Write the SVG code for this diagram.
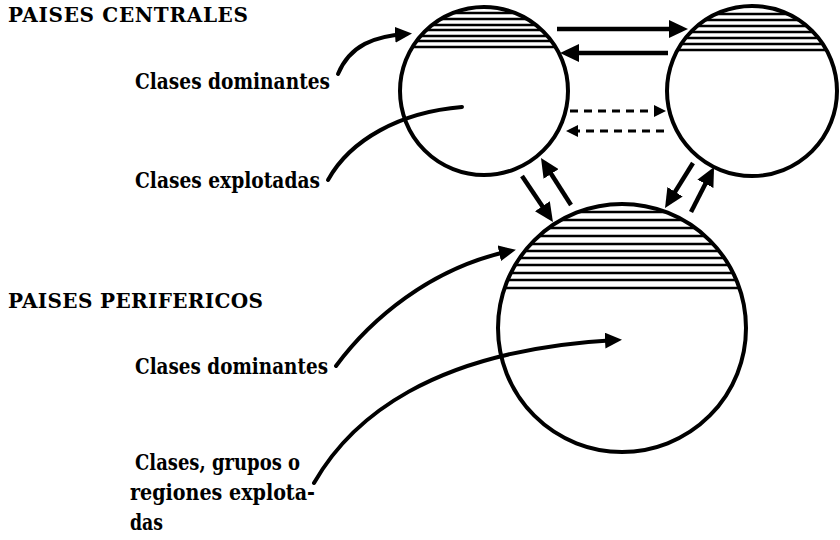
<svg xmlns="http://www.w3.org/2000/svg" width="840" height="540" viewBox="0 0 840 540">
<style>
  .circ { fill: none; stroke: #000; stroke-width: 4; }
  .hatch { stroke: #000; stroke-width: 2.4; }
  .arr { fill: none; stroke: #000; stroke-width: 4.5; marker-end: url(#big); }
  .dash { fill: none; stroke: #000; stroke-width: 2.8; stroke-dasharray: 8 6; marker-end: url(#small); }
  .lead { fill: none; stroke: #000; stroke-width: 4; stroke-linecap: round; }
  .leadA { fill: none; stroke: #000; stroke-width: 4; stroke-linecap: round; marker-end: url(#lead); }
  .head { font-family: "DejaVu Serif", "Liberation Serif", serif; font-weight: bold; font-size: 20px; fill: #000; }
  .lab { font-family: "DejaVu Serif", "Liberation Serif", serif; font-weight: bold; font-size: 21.5px; fill: #000; }
</style>
<defs>
  <marker id="big" markerUnits="userSpaceOnUse" markerWidth="20" markerHeight="18" refX="13" refY="9" orient="auto">
    <path d="M0,0 L19,9 L0,18 Z" fill="#000"/>
  </marker>
  <marker id="small" markerUnits="userSpaceOnUse" markerWidth="13" markerHeight="12" refX="9" refY="6" orient="auto">
    <path d="M0,0 L12,6 L0,12 Z" fill="#000"/>
  </marker>
  <marker id="lead" markerUnits="userSpaceOnUse" markerWidth="18" markerHeight="16" refX="11" refY="8" orient="auto">
    <path d="M0,0 L17,8 L0,16 Z" fill="#000"/>
  </marker>
  <clipPath id="c1"><circle cx="484" cy="91" r="84"/></clipPath>
  <clipPath id="c2"><circle cx="752" cy="91" r="85"/></clipPath>
  <clipPath id="c3"><circle cx="622" cy="328" r="124"/></clipPath>
</defs>
<rect width="840" height="540" fill="#fff"/>

<g id="central1">
  <g clip-path="url(#c1)">
    <line class="hatch" x1="390" y1="13" x2="580" y2="13"/>
    <line class="hatch" x1="390" y1="19" x2="580" y2="19"/>
    <line class="hatch" x1="390" y1="25" x2="580" y2="25"/>
    <line class="hatch" x1="390" y1="30" x2="580" y2="30"/>
    <line class="hatch" x1="390" y1="36" x2="580" y2="36"/>
    <line class="hatch" x1="390" y1="41" x2="580" y2="41"/>
    <line class="hatch" x1="390" y1="47" x2="580" y2="47"/>
  </g>
  <circle class="circ" cx="484" cy="91" r="84"/>
</g>

<g id="central2">
  <g clip-path="url(#c2)">
    <line class="hatch" x1="660" y1="14" x2="840" y2="14"/>
    <line class="hatch" x1="660" y1="20" x2="840" y2="20"/>
    <line class="hatch" x1="660" y1="26" x2="840" y2="26"/>
    <line class="hatch" x1="660" y1="32" x2="840" y2="32"/>
    <line class="hatch" x1="660" y1="38" x2="840" y2="38"/>
    <line class="hatch" x1="660" y1="44" x2="840" y2="44"/>
    <line class="hatch" x1="660" y1="50" x2="840" y2="50"/>
  </g>
  <circle class="circ" cx="752" cy="91" r="85"/>
</g>

<g id="periferico">
  <g clip-path="url(#c3)">
    <line class="hatch" x1="490" y1="212" x2="760" y2="212"/>
    <line class="hatch" x1="490" y1="220" x2="760" y2="220"/>
    <line class="hatch" x1="490" y1="228" x2="760" y2="228"/>
    <line class="hatch" x1="490" y1="236" x2="760" y2="236"/>
    <line class="hatch" x1="490" y1="244" x2="760" y2="244"/>
    <line class="hatch" x1="490" y1="251" x2="760" y2="251"/>
    <line class="hatch" x1="490" y1="258" x2="760" y2="258"/>
    <line class="hatch" x1="490" y1="265" x2="760" y2="265"/>
    <line class="hatch" x1="490" y1="273" x2="760" y2="273"/>
    <line class="hatch" x1="490" y1="280" x2="760" y2="280"/>
    <line class="hatch" x1="490" y1="288" x2="760" y2="288"/>
  </g>
  <circle class="circ" cx="622" cy="328" r="124"/>
</g>

<g id="labels">
  <text class="head" x="8" y="22" textLength="240">PAISES CENTRALES</text>
  <text class="lab" x="135" y="89" textLength="195" lengthAdjust="spacingAndGlyphs">Clases dominantes</text>
  <text class="lab" x="135" y="188" textLength="185" lengthAdjust="spacingAndGlyphs">Clases explotadas</text>
  <text class="head" x="8" y="308" textLength="255">PAISES PERIFERICOS</text>
  <text class="lab" x="135" y="374" textLength="193" lengthAdjust="spacingAndGlyphs">Clases dominantes</text>
  <text class="lab" x="135" y="470" textLength="165" lengthAdjust="spacingAndGlyphs">Clases, grupos o</text>
  <text class="lab" x="130" y="500" textLength="185" lengthAdjust="spacingAndGlyphs">regiones explota-</text>
  <text class="lab" x="130" y="530" textLength="33" lengthAdjust="spacingAndGlyphs">das</text>
</g>

<g id="connectors">
  <path class="arr" d="M557,29 L682,29"/>
  <path class="arr" d="M668,53 L566,53"/>
  <path class="dash" d="M570,111 L663,111"/>
  <path class="dash" d="M664,131 L569,131"/>
  <path class="arr" d="M522,176 L549.6,217"/>
  <path class="arr" d="M571,205 L544.2,163"/>
  <path class="arr" d="M693,163 L668.2,202.9"/>
  <path class="arr" d="M691,212 L711.3,172.3"/>
  <path class="leadA" d="M338,74 C350,45 375,36 406,34"/>
  <path class="lead" d="M328,180 C350,140 400,112 462,107"/>
  <path class="leadA" d="M336,366 C370,320 430,268 510,251"/>
  <path class="leadA" d="M314,483 C350,420 430,350 616,340"/>
</g>
</svg>
